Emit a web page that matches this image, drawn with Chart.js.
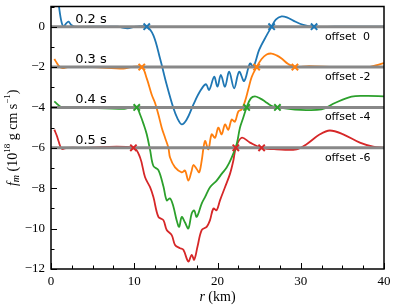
<!DOCTYPE html>
<html>
<head>
<meta charset="utf-8">
<script src="https://cdn.jsdelivr.net/npm/chart.js@4"></script>
<style>
  body { margin: 0; background: #fff; }
  canvas { display: block; }
</style>
</head>
<body>
<canvas id="chart" width="395" height="308"></canvas>
<script>
// offsets of each snapshot and the labels that go with them
const offsets = [0, -2, -4, -6];
const timeLabels = ["0.2 s", "0.3 s", "0.4 s", "0.5 s"];
const offsetLabels = ["offset  0", "offset -2", "offset -4", "offset -6"];
const colors = ["#1f77b4", "#ff7f0e", "#2ca02c", "#d62728"];

// curves, [r (km), f_m]
const blue = [
    [0.5, 2.6], [0.9, 1.2], [1.2, 0.35], [1.5, 0.0], [1.8, 0.15], [2.1, 0.25], [2.4, 0.1], [2.8, 0.0],
    [5, 0], [8, 0], [9.2, -0.08], [10.2, 0], [11.5, 0], [12.3, -0.43], [13.1, -1.58], [13.9, -2.88],
    [14.7, -4.03], [15.2, -4.55], [15.7, -4.84], [16.3, -4.6], [17.1, -3.86], [17.9, -3.2], [18.6, -2.85],
    [19.0, -3.13], [19.6, -2.48], [20.0, -2.97], [20.4, -2.39], [20.9, -2.97], [21.4, -2.23], [22.0, -3.05],
    [22.6, -2.23], [23.2, -2.69], [23.9, -1.82], [24.3, -1.99], [25.0, -1.15], [25.9, -0.43], [26.5, 0],
    [27.0, 0.35], [27.7, 0.51], [28.4, 0.45], [29.1, 0.3], [30.3, 0.09], [31.6, 0], [34, 0], [40, 0]
];
const orange = [
    [0.4, -1.6], [0.7, -1.8], [1.0, -1.97], [1.4, -2.05], [2, -2.0], [5, -2], [8.7, -2.07], [9.6, -2],
    [10.9, -2], [11.5, -2.56], [12.1, -3.37], [12.5, -3.78], [12.9, -4.35], [13.3, -5.0], [13.7, -5.5],
    [14.1, -5.99], [14.3, -6.48], [14.9, -6.97], [15.7, -7.21], [16.1, -7.13], [16.5, -7.62], [16.9, -7.13],
    [17.1, -6.85], [17.5, -7.05], [17.8, -7.21], [18.1, -6.64], [18.5, -5.66], [18.9, -6.07], [19.3, -5.33],
    [19.7, -5.5], [20.1, -5.0], [20.5, -5.33], [20.9, -4.84], [21.3, -5.1], [21.7, -4.6], [22.1, -4.7],
    [22.5, -4.2], [22.9, -4.1], [23.3, -3.7], [23.7, -3.1], [24.1, -2.5], [24.7, -2.0], [25.3, -1.6],
    [25.9, -1.38], [26.5, -1.33], [27.1, -1.42], [27.7, -1.58], [28.5, -1.85], [29.3, -2], [31, -1.95],
    [34, -2], [37, -2], [38.2, -2.0], [39, -1.92], [40, -1.8]
];
const green = [
    [0.4, -3.7], [0.8, -3.85], [1.2, -3.97], [1.6, -4.02], [3, -4], [8.8, -4.07], [9.5, -4], [10.3, -4],
    [10.7, -4.35], [11.1, -4.8], [11.5, -5.33], [11.9, -6.1], [12.3, -6.9], [12.9, -7.1], [13.5, -7.9],
    [13.9, -8.6], [14.3, -8.5], [14.7, -8.9], [15.1, -9.6], [15.4, -9.91], [15.7, -9.42], [16.1, -9.7],
    [16.5, -9.99], [16.9, -9.25], [17.2, -9.1], [17.5, -9.42], [18.1, -8.76], [18.5, -8.44], [19.1, -7.95],
    [19.9, -7.62], [20.5, -7.29], [21.1, -6.97], [21.7, -6.48], [22.3, -5.82], [22.7, -5.0], [23.1, -4.5],
    [23.5, -4], [24.0, -3.55], [24.5, -3.45], [25.1, -3.55], [25.7, -3.7], [26.4, -3.9], [27.2, -4],
    [29.3, -4.1], [32.5, -4.1], [34.1, -3.78], [36.1, -3.46], [38, -3.43], [40, -3.45]
];
const red = [
    [0.4, -5.1], [0.7, -5.4], [0.9, -5.66], [1.3, -6.05], [1.9, -6.0], [4, -6], [9.9, -6], [10.7, -6.48],
    [11.3, -7.46], [11.9, -7.95], [12.3, -8.44], [12.9, -9.42], [13.5, -9.58], [13.9, -10.07], [14.5, -10.32],
    [14.9, -10.81], [15.5, -10.97], [15.9, -11.05], [16.5, -11.63], [16.9, -11.3], [17.2, -11.54],
    [17.6, -10.89], [18.1, -10.07], [18.7, -9.91], [19.1, -9.58], [19.5, -9.01], [19.9, -9.09], [20.3, -8.6],
    [20.9, -7.95], [21.5, -7.29], [21.9, -6.64], [22.2, -6], [22.9, -5.5], [23.9, -5.74], [25.3, -6],
    [27.1, -6.07], [29.5, -6.07], [30.7, -5.82], [32.3, -5.33], [33.5, -5.14], [35.1, -5.33], [37.1, -5.74],
    [38.7, -5.94], [40, -6]
];
const curves = [blue, orange, green, red];

// r positions of the x marks on each baseline
const crossings = [
    [11.5, 26.5, 31.6],
    [10.9, 24.7, 29.3],
    [10.3, 23.5, 27.2],
    [9.9, 22.2, 25.3]
];

const toPts = arr => arr.map(p => ({ x: p[0], y: p[1] }));
const minus = v => (v < 0 ? "\u2212" + (-v) : "" + v);

const datasets = [];
curves.forEach((c, i) => {
    datasets.push({
        data: toPts(c), borderColor: colors[i], borderWidth: 1.8, pointRadius: 0,
        showLine: true, tension: 0.35, order: 2
    });
});
offsets.forEach(o => {
    datasets.push({
        data: [{ x: 0, y: o }, { x: 40, y: o }], borderColor: "#888888", borderWidth: 3,
        pointRadius: 0, showLine: true, order: 1
    });
});
crossings.forEach((xs, i) => {
    datasets.push({
        data: xs.map(x => ({ x: x, y: offsets[i] })), showLine: false, pointStyle: "crossRot",
        pointRadius: 4.5, borderColor: colors[i], borderWidth: 2, order: 0
    });
});

const decor = {
    id: "decor",
    afterDatasetsDraw(chart) {
        const ctx = chart.ctx, a = chart.chartArea;
        const xs = chart.scales.x, ys = chart.scales.y;
        ctx.save();
        // inward ticks
        ctx.strokeStyle = "#000";
        ctx.lineWidth = 1;
        for (let v = -12; v <= 1; v++) {
            const y = Math.round(ys.getPixelForValue(v)) + 0.5;
            const len = v % 2 === 0 ? 6 : 3.5;
            ctx.beginPath(); ctx.moveTo(a.left, y); ctx.lineTo(a.left + len, y); ctx.stroke();
        }
        for (let v = 0; v <= 40; v += 2.5) {
            const x = Math.round(xs.getPixelForValue(v)) + 0.5;
            const len = v % 10 === 0 ? 6 : 3.5;
            ctx.beginPath(); ctx.moveTo(x, a.bottom); ctx.lineTo(x, a.bottom - len); ctx.stroke();
        }
        // frame
        ctx.lineWidth = 1.5;
        ctx.strokeRect(a.left, a.top, a.right - a.left, a.bottom - a.top);

        // snapshot labels
        ctx.fillStyle = "#000";
        ctx.textBaseline = "middle";
        ctx.textAlign = "left";
        offsets.forEach((o, i) => {
            ctx.font = "13px 'DejaVu Sans'";
            ctx.fillText(timeLabels[i], xs.getPixelForValue(2.9), ys.getPixelForValue(o + 0.37));
            ctx.font = "11px 'DejaVu Sans'";
            ctx.fillText(offsetLabels[i], xs.getPixelForValue(32.9), ys.getPixelForValue(o - 0.5));
        });

        // x title
        const cx = (a.left + a.right) / 2;
        ctx.font = "italic 14px 'Liberation Serif'";
        const w1 = ctx.measureText("r").width;
        ctx.font = "14px 'Liberation Serif'";
        const w2 = ctx.measureText(" (km)").width;
        let x0 = cx - (w1 + w2) / 2;
        ctx.font = "italic 14px 'Liberation Serif'";
        ctx.fillText("r", x0, 297);
        ctx.font = "14px 'Liberation Serif'";
        ctx.fillText(" (km)", x0 + w1, 297);

        // y title, rotated
        const parts = [
            ["f", "italic 14px 'Liberation Serif'", 0],
            ["m", "italic 10px 'Liberation Serif'", 3],
            [" (10", "14px 'Liberation Serif'", 0],
            ["18", "9px 'Liberation Serif'", -5],
            [" g cm s", "14px 'Liberation Serif'", 0],
            ["\u22121", "9px 'Liberation Serif'", -5],
            [")", "14px 'Liberation Serif'", 0]
        ];
        let total = 0;
        parts.forEach(p => { ctx.font = p[1]; total += ctx.measureText(p[0]).width; });
        ctx.translate(13, (a.top + a.bottom) / 2);
        ctx.rotate(-Math.PI / 2);
        let px = -total / 2;
        parts.forEach(p => {
            ctx.font = p[1];
            ctx.fillText(p[0], px, p[2]);
            px += ctx.measureText(p[0]).width;
        });
        ctx.restore();
    }
};

new Chart(document.getElementById("chart"), {
    type: "scatter",
    data: { datasets: datasets },
    options: {
        responsive: false,
        animation: false,
        layout: { padding: { top: 5, right: 11, left: 0, bottom: 0 } },
        plugins: { legend: { display: false }, tooltip: { enabled: false } },
        scales: {
            x: {
                type: "linear", min: 0, max: 40,
                grid: { display: false, drawTicks: false },
                border: { display: false },
                afterFit: s => { s.height = 39; s.paddingLeft = 0; s.paddingRight = 0; },
                ticks: {
                    stepSize: 2.5, autoSkip: false, maxRotation: 0, padding: 5, color: "#000",
                    font: { family: "Liberation Serif", size: 13 },
                    callback: v => (v % 10 === 0 ? minus(v) : "")
                }
            },
            y: {
                type: "linear", min: -12, max: 1,
                grid: { display: false, drawTicks: false },
                border: { display: false },
                afterFit: s => { s.width = 51; s.paddingTop = 0; s.paddingBottom = 0; },
                ticks: {
                    stepSize: 1, autoSkip: false, padding: 6, color: "#000",
                    font: { family: "Liberation Serif", size: 13 },
                    callback: v => (v % 2 === 0 ? minus(v) : "")
                }
            }
        }
    },
    plugins: [decor]
});
</script>
</body>
</html>
